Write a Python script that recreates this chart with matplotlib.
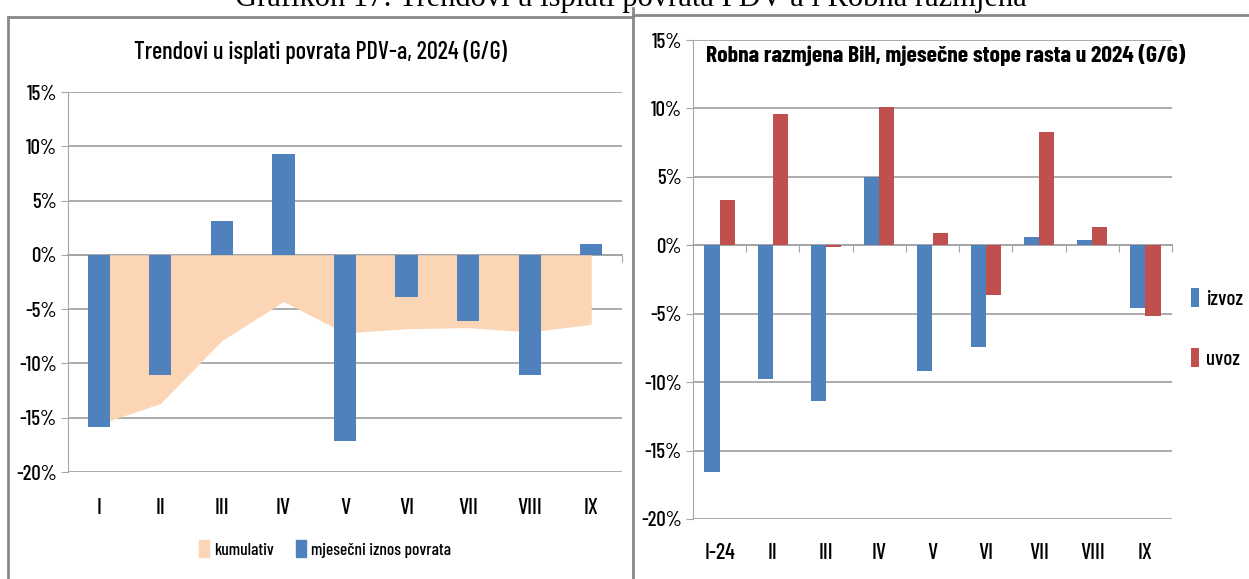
import numpy as np
import matplotlib
matplotlib.use("Agg")
from matplotlib import pyplot as plt
from matplotlib.patches import Patch
from matplotlib.lines import Line2D

# left chart: VAT refund trends
months_left = ["I", "II", "III", "IV", "V", "VI", "VII", "VIII", "IX"]
kumulativ = [-15.6, -13.7, -7.9, -4.3, -7.2, -6.8, -6.7, -7.1, -6.4]
mjesecni = [-15.9, -11.1, 3.1, 9.3, -17.1, -3.9, -6.1, -11.1, 1.0]

# right chart: trade exchange
months_right = ["I-24", "II", "III", "IV", "V", "VI", "VII", "VIII", "IX"]
izvoz = [-16.6, -9.8, -11.4, 5.0, -9.2, -7.4, 0.6, 0.4, -4.6]
uvoz = [3.3, 9.6, -0.1, 10.1, 0.9, -3.6, 8.3, 1.3, -5.2]

BLUE = "#4F81BD"
RED = "#C0504D"
PEACH = "#FCD5B5"
GRID = "#A6A6A6"
FONT = ["Barlow Condensed", "DejaVu Sans"]

W, H = 1249, 579


def style_axes(ax, labels, label_size, xpad):
    ax.set_xlim(-0.5, len(labels) - 0.5)
    ax.set_ylim(-20, 15)
    yt = np.arange(-20, 16, 5)
    ax.set_yticks(yt)
    ax.set_yticklabels([f"{v}%" for v in yt], family=FONT, fontsize=label_size,
                       fontweight="medium")
    ax.grid(axis="y", color=GRID, lw=1.3)
    ax.set_axisbelow(True)
    for s in ["top", "right", "bottom"]:
        ax.spines[s].set_visible(False)
    ax.spines["left"].set_color(GRID)
    ax.tick_params(axis="y", color=GRID, length=5, pad=3)
    ax.set_xticks(range(len(labels)))
    ax.set_xticklabels(labels, family=FONT, fontsize=label_size + 1, fontweight="medium")
    ax.tick_params(axis="x", length=0, pad=xpad)
    # category axis drawn at zero with tick marks between categories
    sec = ax.secondary_xaxis(0, transform=ax.transData)
    sec.set_xticks(np.arange(0.5, len(labels) - 0.4, 1))
    sec.set_xticklabels([])
    sec.tick_params(axis="x", length=5, color=GRID, direction="out")
    sec.spines["bottom"].set_color(GRID)
    sec.spines["bottom"].set_linewidth(1.3)


def main():
    fig = plt.figure(figsize=(W / 100, H / 100), dpi=100)

    # left panel
    ax1 = fig.add_axes([68 / W, 1 - 472 / H, 554 / W, 380 / H])
    x = np.arange(len(months_left))
    ax1.fill_between(x, kumulativ, 0, color=PEACH, lw=0, zorder=1)
    ax1.bar(x, mjesecni, width=0.36, color=BLUE, zorder=2)
    style_axes(ax1, months_left, 15, 19)
    fig.text(320 / W, 1 - 52 / H, "Trendovi u isplati povrata PDV-a, 2024 (G/G)",
             family=FONT, fontsize=17.5, fontweight="medium", ha="center", va="center")
    handles = [Patch(color=PEACH, label="kumulativ"),
               Patch(color=BLUE, label="mjesečni iznos povrata")]
    fig.legend(handles=handles, loc="center", bbox_to_anchor=(325 / W, 1 - 549 / H),
               ncol=2, frameon=False,
               prop={"family": FONT, "size": 12.5, "weight": "medium"},
               handlelength=0.55, handleheight=1.1, handletextpad=0.3, columnspacing=1.3)

    # right panel
    ax2 = fig.add_axes([693 / W, 1 - 519 / H, 479 / W, 479 / H])
    x = np.arange(len(months_right))
    bw = 0.285
    ax2.bar(x - bw / 2, izvoz, width=bw, color=BLUE, label="izvoz", zorder=2)
    ax2.bar(x + bw / 2, uvoz, width=bw, color=RED, label="uvoz", zorder=2)
    style_axes(ax2, months_right, 15, 17)
    fig.text(706 / W, 1 - 55 / H, "Robna razmjena BiH, mjesečne stope rasta u 2024 (G/G)",
             family=FONT, fontsize=17, fontweight="bold", ha="left", va="center")
    ax2.legend(loc="center left", bbox_to_anchor=(1.022, 0.398), frameon=False,
               prop={"family": FONT, "size": 15, "weight": "medium"},
               handlelength=0.4, handleheight=1.0,
               handletextpad=0.35, labelspacing=1.9, borderaxespad=0)

    # panel borders and cut caption
    c = "#888888"
    fig.add_artist(Line2D([8 / W, 8 / W], [0, 1 - 17 / H], color=c, lw=2))
    fig.add_artist(Line2D([8 / W, 633 / W], [1 - 17 / H, 1 - 17 / H], color=c, lw=2))
    fig.add_artist(Line2D([633 / W, 633 / W], [0, 1 - 8 / H], color=c, lw=2))
    fig.add_artist(Line2D([633 / W, 1], [1 - 15 / H, 1 - 15 / H], color=c, lw=2))
    fig.text(631 / W, 1 - 6 / H, "Grafikon 17: Trendovi u isplati povrata PDV-a i Robna razmjena",
             family=["Liberation Serif", "DejaVu Serif"], fontsize=22, ha="center", va="baseline")

    fig.savefig("out.png", dpi=100)


if __name__ == "__main__":
    main()
